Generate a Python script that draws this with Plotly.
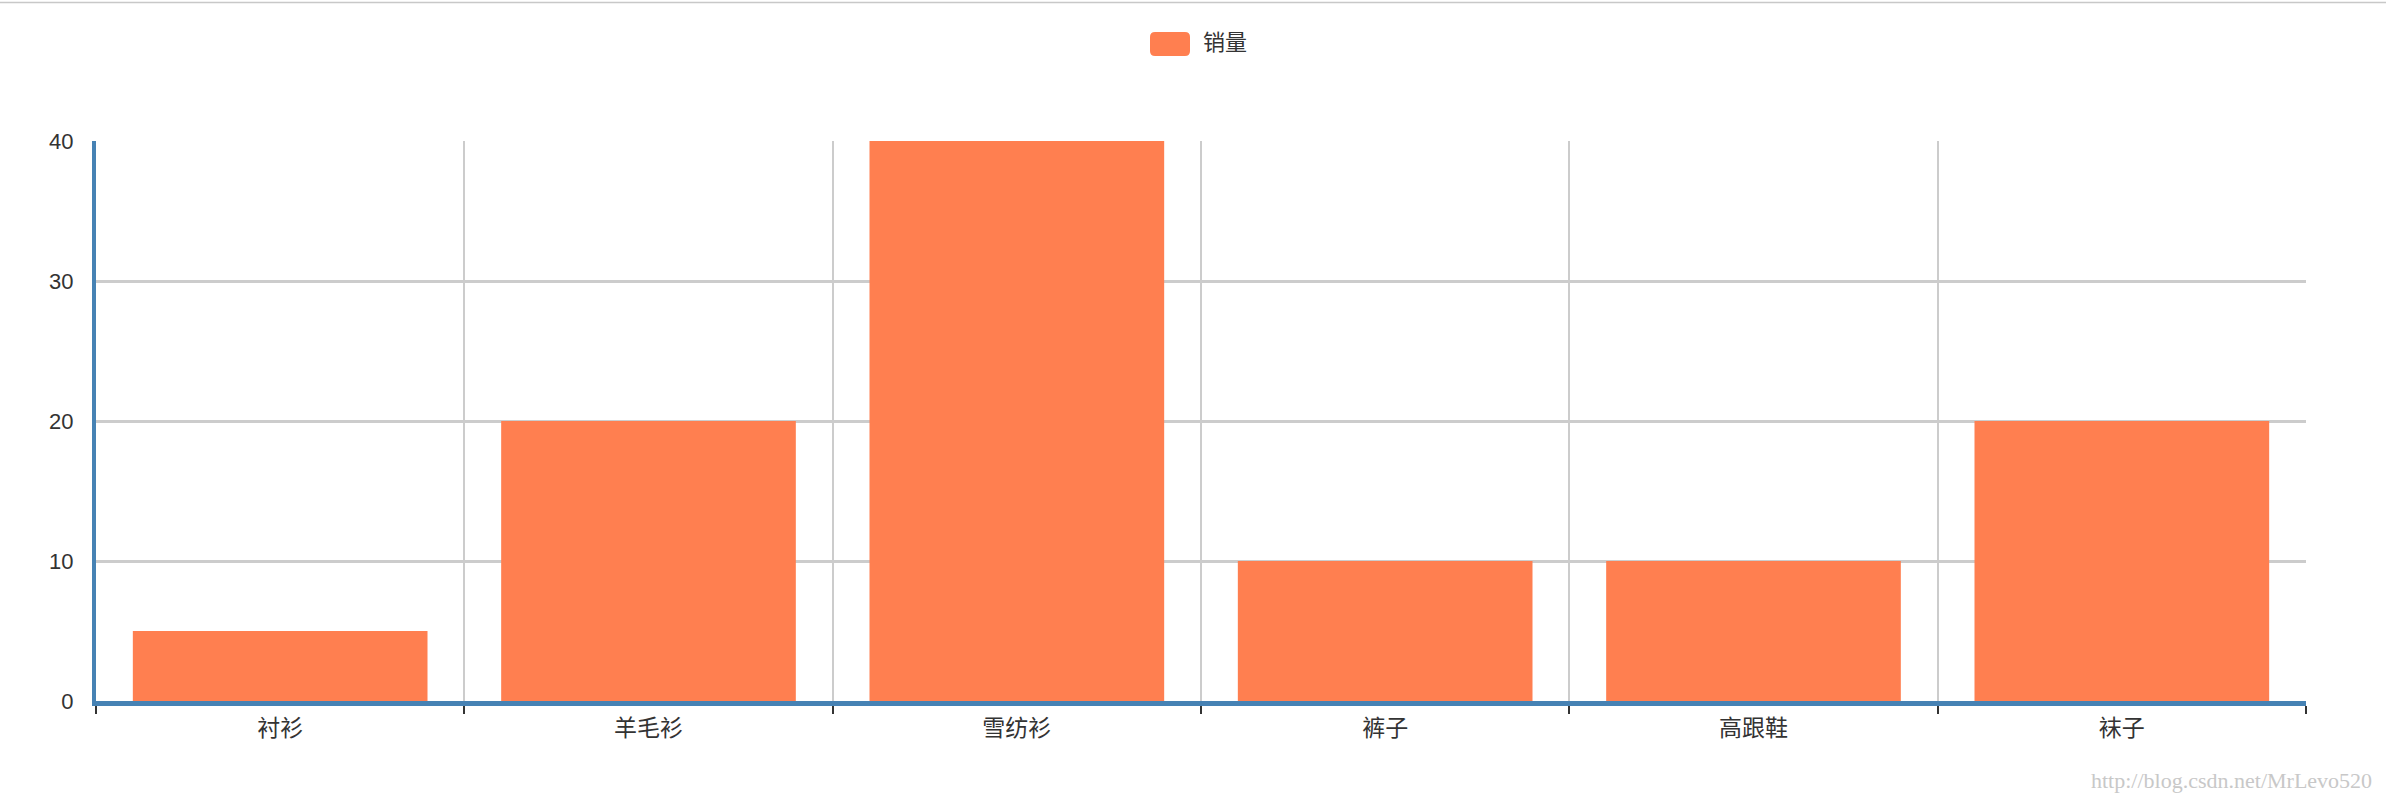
import plotly.graph_objects as go

# ---- data ----
categories = ["衬衫", "羊毛衫", "雪纺衫", "裤子", "高跟鞋", "袜子"]
sales = [5, 20, 40, 10, 10, 20]
series_name = "销量"
y_ticks = [0, 10, 20, 30, 40]
watermark = "http://blog.csdn.net/MrLevo520"

# ---- geometry (pixels) ----
W, H = 2386, 800
L, R, T, B = 96, 80, 141, 99
PW = W - L - R
PH = H - T - B
BAR_COLOR = "#FF7F50"
AXIS_BLUE = "#4682B4"
FONT = "Liberation Sans, Noto Sans CJK SC, sans-serif"


def px_x(x):
    return (x - L) / PW


def px_y(y):
    return (H - B - y) / PH


def rounded_rect(x0, y0, x1, y1, r):
    # pixel coords -> paper path with rounded corners
    pts = [
        f"M{px_x(x0 + r)},{px_y(y0)}",
        f"L{px_x(x1 - r)},{px_y(y0)}",
        f"Q{px_x(x1)},{px_y(y0)} {px_x(x1)},{px_y(y0 + r)}",
        f"L{px_x(x1)},{px_y(y1 - r)}",
        f"Q{px_x(x1)},{px_y(y1)} {px_x(x1 - r)},{px_y(y1)}",
        f"L{px_x(x0 + r)},{px_y(y1)}",
        f"Q{px_x(x0)},{px_y(y1)} {px_x(x0)},{px_y(y1 - r)}",
        f"L{px_x(x0)},{px_y(y0 + r)}",
        f"Q{px_x(x0)},{px_y(y0)} {px_x(x0 + r)},{px_y(y0)}",
        "Z",
    ]
    return " ".join(pts)


fig = go.Figure()
fig.add_trace(go.Bar(
    x=categories, y=sales, name=series_name,
    marker=dict(color=BAR_COLOR, line=dict(width=0)),
    width=0.8, showlegend=False,
))

fig.update_layout(
    width=W, height=H,
    margin=dict(l=L, r=R, t=T, b=B, pad=0),
    paper_bgcolor="white", plot_bgcolor="white",
    font=dict(family=FONT, size=22, color="#333333"),
    bargap=0.2,
    showlegend=False,
    xaxis=dict(
        type="category", range=[-0.5, len(categories) - 0.5],
        tickson="boundaries", ticks="outside", ticklen=8, tickwidth=2,
        tickcolor="#333333",
        showgrid=True, gridcolor="#cccccc", gridwidth=1.5,
        showline=True, linecolor=AXIS_BLUE, linewidth=4.5,
        ticklabelstandoff=3,
        tickfont=dict(size=23, color="#333333"),
        fixedrange=True, zeroline=False,
    ),
    yaxis=dict(
        range=[0, 40], tickvals=y_ticks, ticks="",
        showgrid=True, gridcolor="#cccccc", gridwidth=2.5,
        showline=True, linecolor=AXIS_BLUE, linewidth=4,
        zeroline=False, ticklabelstandoff=14,
        tickfont=dict(size=22, color="#333333"),
        fixedrange=True,
    ),
    shapes=[
        dict(type="path", xref="paper", yref="paper",
             path=rounded_rect(1150, 32, 1190, 56, 5),
             fillcolor=BAR_COLOR, line=dict(width=0)),
        dict(type="line", xref="paper", yref="paper",
             x0=px_x(0), x1=px_x(W), y0=px_y(2.5), y1=px_y(2.5),
             line=dict(color="#c8c8c8", width=1.5)),
    ],
    annotations=[
        dict(text=series_name, xref="paper", yref="paper",
             x=px_x(1201), y=px_y(43), xanchor="left", yanchor="middle",
             showarrow=False, font=dict(size=22, color="#333333")),
        dict(text=watermark, xref="paper", yref="paper",
             x=px_x(2374), y=px_y(780), xanchor="right", yanchor="middle",
             showarrow=False,
             font=dict(family="Liberation Serif, serif", size=22, color="#c8c8c8")),
    ],
)

fig.write_html(
    "out.html",
    config={"displayModeBar": False},
    post_script="document.body.style.margin='0';document.body.style.overflow='hidden';",
)
